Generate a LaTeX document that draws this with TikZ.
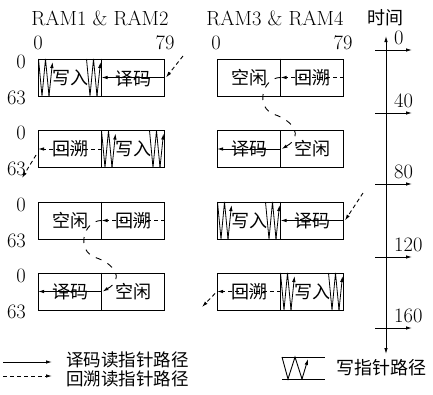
\documentclass[tikz,border=0pt]{standalone}
\usepackage{fontspec}
\newfontfamily\cjk{Noto Sans CJK SC}
\usetikzlibrary{arrows.meta,calc}
\begin{document}
\begin{tikzpicture}[x=1pt,y=-1pt,
  ram/.style={draw, line width=0.9pt, minimum width=126pt, minimum height=37pt, inner sep=0pt},
  lbl/.style={font=\fontsize{20.5}{22}\selectfont, inner sep=0pt},
  zh/.style={font=\fontsize{18}{20}\selectfont\cjk, inner sep=0pt},
  zhs/.style={font=\fontsize{17.5}{18}\selectfont\cjk, inner sep=0pt},
  tip/.style={-{Latex[length=6pt,width=3.5pt]}},
  solidarr/.style={tip, line width=0.9pt},
  dasharr/.style={tip, line width=0.9pt, dash pattern=on 4pt off 3pt},
  curvearr/.style={tip, line width=0.9pt, dash pattern=on 6pt off 7pt},
  zz/.pic={\draw[line width=0.8pt] (0,0) -- (3.5,37) -- (7,0) -- (10.5,37);
           \draw[tip, line width=0.8pt] (10.5,37) -- (14,3);}
]
\useasboundingbox (0,0) rectangle (433,394);

% titles
\node[lbl] (t1) at (100,18) {RAM1 \& RAM2};
\node[lbl] (t2) at (275,18) {RAM3 \& RAM4};
\node[zh] (t3) at (385,18) {时间};

% column numbers
\node[lbl] (c0l) at (38,43) {0};
\node[lbl] (c79l) at (165,43) {79};
\node[lbl] (c0r) at (216,43) {0};
\node[lbl] (c79r) at (343,43) {79};

% boxes
\node[ram] (L1) at (101.5,77.5) {};
\node[ram] (L2) at (101.5,149) {};
\node[ram] (L3) at (101.5,220.5) {};
\node[ram] (L4) at (101.5,291.5) {};
\node[ram] (R1) at (280.5,77.5) {};
\node[ram] (R2) at (280.5,149) {};
\node[ram] (R3) at (280.5,220.5) {};
\node[ram] (R4) at (280.5,291.5) {};
\foreach \b in {L1,L2,L3,L4,R1,R2,R3,R4}{
  \draw[line width=0.9pt] (\b.north) -- (\b.south);
}

% row labels
\foreach \b/\n in {L1/a,L2/b,L3/c,L4/d}{
  \node[lbl, anchor=east] (r0\n) at ($(\b.north west)+(-12,3)$) {0};
  \node[lbl, anchor=east] (r63\n) at ($(\b.south west)+(-12,1)$) {63};
}

% half texts
\node[zh] (L1a) at ($(L1.center)+(-31.5,0)$) {写入};
\node[zh] (L1b) at ($(L1.center)+(31.5,1)$) {译码};
\node[zh] (L2a) at ($(L2.center)+(-31.5,0)$) {回溯};
\node[zh] (L2b) at ($(L2.center)+(31.5,0)$) {写入};
\node[zh] (L3a) at ($(L3.center)+(-31.5,0)$) {空闲};
\node[zh] (L3b) at ($(L3.center)+(31.5,0)$) {回溯};
\node[zh] (L4a) at ($(L4.center)+(-31.5,0)$) {译码};
\node[zh] (L4b) at ($(L4.center)+(31.5,0)$) {空闲};
\node[zh] (R1a) at ($(R1.center)+(-31.5,0)$) {空闲};
\node[zh] (R1b) at ($(R1.center)+(31.5,0)$) {回溯};
\node[zh] (R2a) at ($(R2.center)+(-31.5,0)$) {译码};
\node[zh] (R2b) at ($(R2.center)+(31.5,0)$) {空闲};
\node[zh] (R3a) at ($(R3.center)+(-31.5,0)$) {写入};
\node[zh] (R3b) at ($(R3.center)+(31.5,0)$) {译码};
\node[zh] (R4a) at ($(R4.center)+(-31.5,0)$) {回溯};
\node[zh] (R4b) at ($(R4.center)+(31.5,0)$) {写入};

% write pointer zigzags
\pic at (38.5,59) {zz};
\pic at (86.5,59) {zz};
\pic at (101.5,130.5) {zz};
\pic at (149.5,130.5) {zz};
\pic at (217.5,202) {zz};
\pic at (265.5,202) {zz};
\pic at (280.5,273) {zz};
\pic at (328.5,273) {zz};

% read pointer paths
\draw[solidarr] (L1.east) -- (L1.center);
\draw[dasharr] (L2.center) -- (L2.west);
\draw[dasharr] (L3.east) -- (L3.center);
\draw[solidarr] (L4.center) -- (L4.west);
\draw[dasharr] (R1.east) -- (R1.center);
\draw[solidarr] (R2.center) -- (R2.west);
\draw[solidarr] (R3.east) -- (R3.center);
\draw[dasharr] (R4.center) -- (R4.west);

% incoming / outgoing traceback arrows
\coordinate (in1) at (183,56);
\draw[dasharr] (in1) -- ($(L1.east)+(1,0)$);
\coordinate (in3) at (363,193);
\draw[dasharr] (in3) -- ($(R3.east)+(1,0)$);
\coordinate (out2) at (22,178);
\draw[dasharr] ($(L2.west)+(-2,6)$) -- (out2);
\coordinate (out4) at (202,307);
\draw[dasharr] ($(R4.west)+(-2,2)$) -- (out4);

% S-shaped traceback transfers
\draw[curvearr] (L3.center) .. controls ($(L3.center)+(-18,0)$) and ($(L3.center)+(-26,30)$) ..
  ($(L3.center)+(-6,37)$) .. controls ($(L3.center)+(12,43)$) and ($(L4.center)+(24,-13)$) ..
  ($(L4.center)+(1,0)$);
\draw[curvearr] (R1.center) .. controls ($(R1.center)+(-18,0)$) and ($(R1.center)+(-26,30)$) ..
  ($(R1.center)+(-6,37)$) .. controls ($(R1.center)+(12,43)$) and ($(R2.center)+(24,-13)$) ..
  ($(R2.center)+(1,0)$);

% time axis
\coordinate (ttop) at (386,36);
\coordinate (tbot) at (386,354);
\draw[{Latex[length=6pt,width=3.5pt]}-{Latex[length=6pt,width=3.5pt]}, line width=0.9pt] (tbot) -- (ttop);
\foreach \y/\t in {50/0,113/40,184/80,257/120,328/160}{
  \coordinate (tka\t) at (375,\y);
  \coordinate (tkb\t) at (412,\y);
  \draw[solidarr] (tka\t) -- (tkb\t);
  \node[lbl, anchor=base west] (tl\t) at (394,\y-6) {\t};
}

% legend
\coordinate (ls1) at (3,362);
\coordinate (ls2) at (52,362);
\draw[solidarr] (ls1) -- (ls2);
\node[zhs, anchor=west] (lt1) at (66,360) {译码读指针路径};
\coordinate (ld1) at (3,376);
\coordinate (ld2) at (52,376);
\draw[dasharr] (ld1) -- (ld2);
\node[zhs, anchor=west] (lt2) at (66,378.5) {回溯读指针路径};

\coordinate (lw1) at (282,357);
\coordinate (lw2) at (325,357);
\coordinate (lw3) at (282,379);
\coordinate (lw4) at (325,379);
\draw[line width=0.9pt] (lw1) -- (lw2);
\draw[line width=0.9pt] (lw3) -- (lw4);
\draw[line width=0.9pt] (282,357) -- (288,379) -- (295,357) -- (302,379);
\draw[tip, line width=0.9pt] (302,379) -- (308,359);
\node[zh, anchor=west] (lt3) at (336,368) {写指针路径};
\end{tikzpicture}
\end{document}
